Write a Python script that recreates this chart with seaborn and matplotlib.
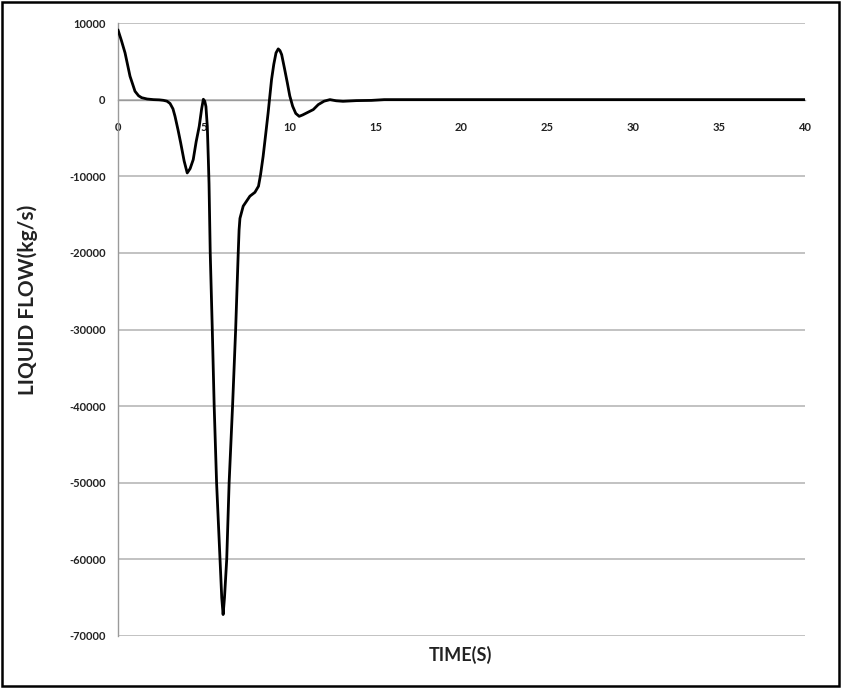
import matplotlib
matplotlib.use("Agg")
import matplotlib.pyplot as plt
import seaborn as sns
import pandas as pd
from matplotlib.patches import Rectangle

# ---- data ----
time_s = [0, 0.2, 0.41, 0.7, 0.99, 1.2, 1.38, 1.7, 2.06, 2.4, 2.64, 2.85, 3.03, 3.2,
          3.32, 3.5, 3.65, 3.85, 4.03, 4.2, 4.38, 4.55, 4.73, 4.87, 4.97, 5.05, 5.12,
          5.2, 5.26, 5.3, 5.37, 5.49, 5.6, 5.74, 5.94, 6.04, 6.12, 6.2, 6.33, 6.47,
          6.67, 6.85, 7.0, 7.05, 7.1, 7.29, 7.5, 7.68, 7.97, 8.18, 8.3, 8.45, 8.6,
          8.74, 8.94, 9.07, 9.2, 9.33, 9.43, 9.53, 9.7, 9.86, 10.0, 10.17, 10.35,
          10.55, 10.75, 10.98, 11.37, 11.66, 12.0, 12.34, 12.7, 13.1, 13.88, 14.75,
          15.5, 20, 25, 30, 35, 40]
liquid_flow = [9100, 7700, 6100, 3050, 1090, 500, 250, 80, 0, -30, -90, -200, -500,
               -1200, -2180, -4000, -5650, -8000, -9570, -9000, -7830, -5500, -3480,
               -1200, 50, -200, -900, -3500, -7830, -11000, -20000, -30000, -40000,
               -50000, -60000, -65000, -67200, -65000, -60000, -50000, -40000, -30000,
               -20000, -17000, -15500, -13900, -13200, -12600, -12100, -11300, -9800,
               -7400, -4500, -1740, 2610, 4600, 6100, 6620, 6400, 5870, 4000, 2180, 500,
               -870, -1800, -2180, -2000, -1740, -1300, -650, -200, 0, -150, -220, -130,
               -100, 0, 0, 0, 0, 0, 0]
x_ticks = [0, 5, 10, 15, 20, 25, 30, 35, 40]
y_ticks = [10000, 0, -10000, -20000, -30000, -40000, -50000, -60000, -70000]
x_title = "TIME(S)"
y_title = "LIQUID FLOW(kg/s)"

df = pd.DataFrame({"t": time_s, "q": liquid_flow})

sns.set_style("white")
plt.rcParams["font.family"] = ["Lato", "DejaVu Sans"]

fig = plt.figure(figsize=(8.41, 6.88), dpi=100)
ax = fig.add_axes([118 / 841, 1 - 636 / 688, (805 - 118) / 841, (636 - 23) / 688])

sns.lineplot(data=df, x="t", y="q", ax=ax, color="black", linewidth=2.0,
             sort=False, estimator=None, zorder=3, solid_joinstyle="round",
             solid_capstyle="round")

ax.set_xlim(0, 40)
ax.set_ylim(-70000, 10000)
ax.set_xticks(x_ticks)
ax.set_yticks(y_ticks)
ax.set_xticklabels([str(v) for v in x_ticks])
ax.set_yticklabels([str(v) for v in y_ticks])
ax.set_xlabel("")
ax.set_ylabel("")

ax.yaxis.grid(True, color="#bdbdbd", linewidth=1.3)
ax.xaxis.grid(False)
ax.set_axisbelow(True)

for s in ["top", "right"]:
    ax.spines[s].set_visible(False)
ax.spines["bottom"].set_position(("data", 0))
ax.spines["bottom"].set_color("#9a9a9a")
ax.spines["left"].set_color("#9a9a9a")
ax.spines["bottom"].set_linewidth(1.0)
ax.spines["left"].set_linewidth(1.0)

ax.tick_params(axis="y", which="major", direction="out", length=4, width=1,
               color="#9a9a9a", pad=5, labelsize=8, labelcolor="#222222")
ax.tick_params(axis="x", which="major", direction="out", length=4, width=1,
               color="#9a9a9a", pad=12, labelsize=8, labelcolor="#222222")
for lab in ax.get_xticklabels() + ax.get_yticklabels():
    lab.set_fontweight("bold")

fig.text(460 / 841, 1 - 655 / 688, x_title, ha="center", va="center",
         fontsize=13, fontweight="bold", color="#222222")
fig.text(28 / 841, 1 - 300 / 688, y_title, ha="center", va="center",
         rotation=90, fontsize=15, fontweight="bold", color="#222222")

fig.patches.append(Rectangle((0.002, 0.003), 0.996, 0.994, transform=fig.transFigure,
                             fill=False, edgecolor="black", linewidth=1.8))

fig.savefig("out.png", dpi=100, facecolor="white")
